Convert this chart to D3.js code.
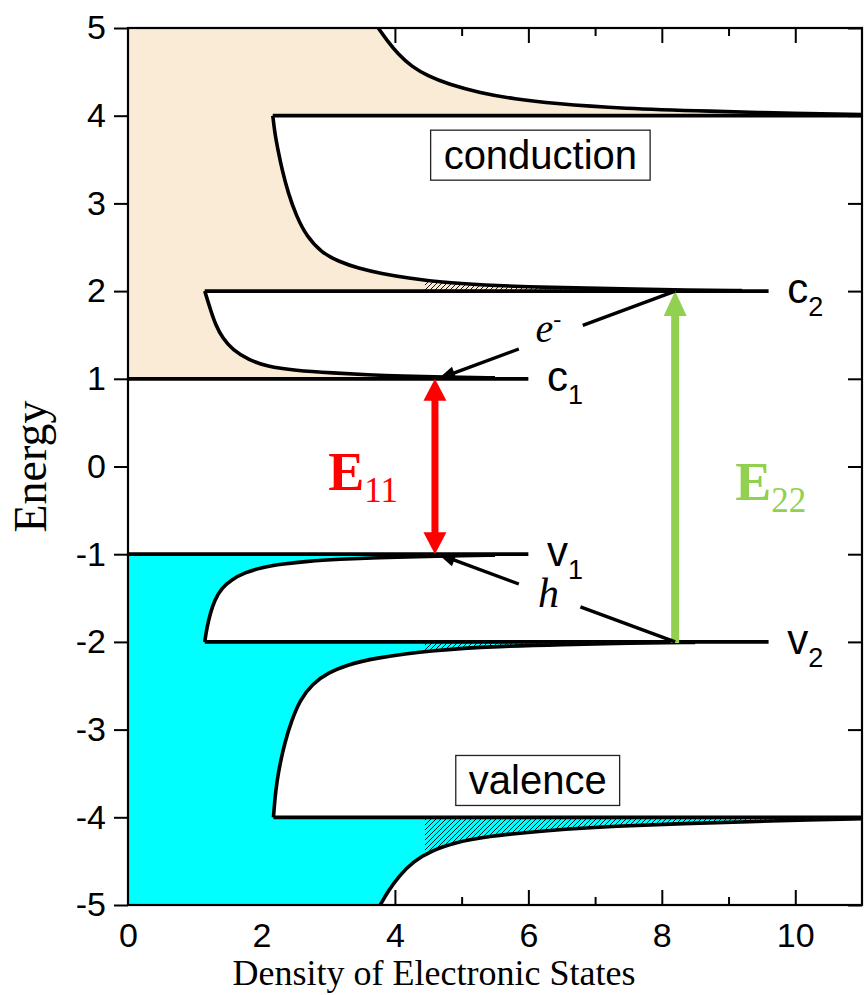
<!DOCTYPE html>
<html><head><meta charset="utf-8">
<script src="https://cdn.jsdelivr.net/npm/d3@7"></script>
<style>body{margin:0;background:#fff} svg{display:block}</style>
</head><body><svg id="chart" width="864" height="995"></svg>
<script>
// ---------------- data ----------------
const xTicksMajor = [0, 2, 4, 6, 8, 10];
const xTicksMinor = [1, 3, 5, 7, 9];
const yTicks = [-5, -4, -3, -2, -1, 0, 1, 2, 3, 4, 5];

// density-of-states curves, points as [DOS, Energy]
const c1Curve = [[1.15,2.00],[1.19,1.90],[1.24,1.78],[1.31,1.62],[1.42,1.46],[1.57,1.33],[1.80,1.22],[2.08,1.14],[2.50,1.095],[3.08,1.066],[3.60,1.045],[4.08,1.03],[4.80,1.018],[5.50,1.01]];
const c2Curve = [[2.17,4.00],[2.20,3.80],[2.25,3.60],[2.31,3.38],[2.40,3.12],[2.52,2.86],[2.68,2.62],[2.90,2.44],[3.15,2.34],[3.45,2.26],[3.80,2.20],[4.19,2.15],[4.70,2.10],[5.27,2.07],[6.35,2.04],[7.42,2.025],[8.40,2.012],[9.20,2.005]];
const c3Curve = [[3.75,5.00],[3.88,4.86],[4.05,4.70],[4.25,4.56],[4.50,4.45],[4.80,4.36],[5.27,4.26],[5.80,4.19],[6.35,4.14],[7.42,4.08],[8.77,4.05],[9.80,4.03],[11.0,4.012]];
const v1Curve = [[1.15,-2.00],[1.18,-1.85],[1.23,-1.68],[1.30,-1.52],[1.40,-1.39],[1.55,-1.29],[1.75,-1.21],[2.00,-1.15],[2.33,-1.11],[2.70,-1.08],[3.08,-1.06],[4.08,-1.03],[4.80,-1.018],[5.50,-1.01]];
const v2Curve = [[2.18,-4.00],[2.20,-3.80],[2.23,-3.60],[2.28,-3.38],[2.35,-3.15],[2.45,-2.90],[2.58,-2.66],[2.76,-2.48],[3.00,-2.35],[3.30,-2.26],[3.65,-2.19],[4.58,-2.09],[5.58,-2.05],[6.50,-2.03],[7.50,-2.015],[8.50,-2.005]];
const v3Curve = [[3.78,-5.00],[3.90,-4.84],[4.06,-4.67],[4.28,-4.50],[4.55,-4.38],[4.90,-4.29],[5.33,-4.22],[6.33,-4.145],[7.33,-4.10],[8.33,-4.07],[9.33,-4.05],[10.2,-4.03],[11.0,-4.015]];

// band-edge lines
const bandEnergies = [1, -1, 2, -2, 4, -4];
const bandStarts   = [0, 0, 1.15, 1.15, 2.17, 2.18];
const bandEnds     = [6, 6, 9.6, 9.6, 11, 11];

// subband labels
const levelNames = ["c", "c", "v", "v"];
const levelSubs  = ["1", "2", "1", "2"];
const levelE     = [1, 2, -1, -2];
const levelX     = [6.28, 9.88, 6.28, 9.88];

// optical transitions: [x, E from, E to]
const transE11 = [4.6, -1, 1];
const transE22 = [8.2, -2, 2];
// relaxation arrows: [x0,E0] -> [x1,E1]
const relaxE = [[8.2, 2.0], [4.65, 1.0]];
const relaxH = [[8.2, -2.0], [4.65, -1.0]];
const hatchFromDOS = 4.45;

// ---------------- chart ----------------
const svg = d3.select("#chart");
const x = d3.scaleLinear().domain([0, 11]).range([128, 862]);
const y = d3.scaleLinear().domain([-5, 5]).range([905, 28]);
const SANS = "'Liberation Sans', Arial, sans-serif";
const SERIF = "'Liberation Serif', 'Times New Roman', serif";
const BEIGE = "#FAEBD7", CYAN = "#00FFFF", RED = "#FF0000", GREEN = "#92D050";

const defs = svg.append("defs");
const pat = defs.append("pattern").attr("id", "hatch").attr("patternUnits", "userSpaceOnUse")
  .attr("width", 5).attr("height", 5);
pat.append("path").attr("d", "M-1,1 l2,-2 M0,5 l5,-5 M4,6 l2,-2")
  .attr("stroke", "#000").attr("stroke-width", 0.9);
defs.append("clipPath").attr("id", "hatchClip").append("rect")
  .attr("x", x(hatchFromDOS)).attr("y", y(2.5))
  .attr("width", x(11) - x(hatchFromDOS)).attr("height", y(-5) - y(2.5));

// ---- axes (ticks under fills) ----
function styleAxis(g) {
  g.select(".domain").remove();
  g.selectAll(".tick line").attr("stroke", "#000").attr("stroke-width", 2);
  g.selectAll(".tick text").attr("font-family", SANS).attr("font-size", 34).attr("fill", "#000");
}
const fmt = d => String(d);
svg.append("g").attr("transform", `translate(0,${y(-5)})`)
  .call(d3.axisBottom(x).tickValues(xTicksMajor).tickSize(-15).tickPadding(18).tickFormat(fmt)).call(styleAxis);
svg.append("g").attr("transform", `translate(0,${y(-5)})`)
  .call(d3.axisBottom(x).tickValues(xTicksMinor).tickSize(-8).tickFormat("")).call(styleAxis);
svg.append("g").attr("transform", `translate(0,${y(5)})`)
  .call(d3.axisTop(x).tickValues(xTicksMajor).tickSize(-15).tickFormat("")).call(styleAxis);
svg.append("g").attr("transform", `translate(0,${y(5)})`)
  .call(d3.axisTop(x).tickValues(xTicksMinor).tickSize(-8).tickFormat("")).call(styleAxis);
svg.append("g").attr("transform", `translate(${x(0)},0)`)
  .call(d3.axisLeft(y).tickValues(yTicks).tickSize(14).tickPadding(8).tickFormat(fmt)).call(styleAxis);
svg.append("g").attr("transform", `translate(${x(11)},0)`)
  .call(d3.axisRight(y).tickValues(yTicks).tickSize(-14).tickFormat("")).call(styleAxis);

// ---- fills ----
const byE = pts => pts.slice().sort((a, b) => a[1] - b[1]);
const crv = d3.curveBasis;
const area = d3.area().curve(crv).y(d => y(d[1])).x0(x(0)).x1(d => x(d[0]));
const line = d3.line().curve(crv).x(d => x(d[0])).y(d => y(d[1]));
const condCurves = [c1Curve, c2Curve, c3Curve];
const valCurves = [v1Curve, v2Curve, v3Curve];

function fillBand(c, color) {
  const ext = d3.extent(c, d => d[1]).map(Math.round);
  const minX = d3.min(c, d => d[0]);
  // solid core of the band (closes seams between segments)
  svg.append("rect").attr("x", x(0)).attr("width", x(minX) - x(0))
    .attr("y", y(ext[1]) - 1).attr("height", y(ext[0]) - y(ext[1]) + 2).attr("fill", color);
  svg.append("path").attr("d", area(byE(c))).attr("fill", color);
}
condCurves.forEach(c => fillBand(c, BEIGE));
valCurves.forEach(c => fillBand(c, CYAN));
// hatched region
const hatchG = svg.append("g").attr("clip-path", "url(#hatchClip)");
[c2Curve, v2Curve, v3Curve].forEach(c => hatchG.append("path").attr("d", area(byE(c))).attr("fill", "url(#hatch)"));

// ---- band edges and curves ----
bandEnergies.forEach((E, i) => {
  svg.append("line").attr("x1", x(bandStarts[i])).attr("x2", x(bandEnds[i]))
    .attr("y1", y(E)).attr("y2", y(E)).attr("stroke", "#000").attr("stroke-width", 3.8);
});
condCurves.concat(valCurves).forEach(c => svg.append("path").attr("d", line(byE(c)))
  .attr("fill", "none").attr("stroke", "#000").attr("stroke-width", 3.6));

// frame
svg.append("rect").attr("x", x(0)).attr("y", y(5)).attr("width", x(11) - x(0)).attr("height", y(-5) - y(5))
  .attr("fill", "none").attr("stroke", "#000").attr("stroke-width", 2.2);

// ---- arrows ----
function blockArrow(xv, e0, e1, color, shaftW, headW, headL, doubleHead) {
  const px = x(xv), ya = y(e0), yb = y(e1); // arrow from ya to yb (tip at yb)
  const dir = Math.sign(yb - ya);
  const sStart = doubleHead ? ya + dir * headL : ya;
  const sEnd = yb - dir * headL;
  svg.append("line").attr("x1", px).attr("x2", px).attr("y1", sStart - dir).attr("y2", sEnd + dir)
    .attr("stroke", color).attr("stroke-width", shaftW);
  const head = (tipY, d) => svg.append("polygon")
    .attr("points", [[px, tipY], [px - headW / 2, tipY - d * headL], [px + headW / 2, tipY - d * headL]].map(p => p.join(",")).join(" "))
    .attr("fill", color);
  head(yb, dir);
  if (doubleHead) head(ya, -dir);
}
blockArrow(transE11[0], transE11[1], transE11[2], RED, 7, 23, 22, true);
blockArrow(transE22[0], transE22[1], transE22[2], GREEN, 8, 23, 25, false);

function gapArrow(seg, gapA, gapB) {
  const [p0, p1] = seg.map(d => [x(d[0]), y(d[1])]);
  const dx = p1[0] - p0[0], dy = p1[1] - p0[1], L = Math.hypot(dx, dy);
  const ux = dx / L, uy = dy / L, headL = 17, headW = 13;
  const at = t => [p0[0] + dx * t, p0[1] + dy * t];
  const a = at(gapA), b = at(gapB);
  const base = [p1[0] - ux * headL, p1[1] - uy * headL];
  svg.append("line").attr("x1", p0[0]).attr("y1", p0[1]).attr("x2", a[0]).attr("y2", a[1])
    .attr("stroke", "#000").attr("stroke-width", 3.4);
  svg.append("line").attr("x1", b[0]).attr("y1", b[1]).attr("x2", base[0] + ux * 2).attr("y2", base[1] + uy * 2)
    .attr("stroke", "#000").attr("stroke-width", 3.4);
  svg.append("polygon").attr("points", [p1, [base[0] - uy * headW / 2, base[1] + ux * headW / 2],
    [base[0] + uy * headW / 2, base[1] - ux * headW / 2]].map(p => p.join(",")).join(" ")).attr("fill", "#000");
}
gapArrow(relaxE, 0.39, 0.66);
gapArrow(relaxH, 0.40, 0.66);

// ---- labels ----
const eLab = svg.append("text").attr("x", x(6.3)).attr("y", y(1.42)).attr("text-anchor", "middle")
  .attr("font-family", SERIF).attr("font-style", "italic").attr("font-size", 40);
eLab.append("tspan").text("e");
eLab.append("tspan").attr("dy", -15).attr("font-size", 24).text("-");
svg.append("text").attr("x", x(6.3)).attr("y", y(-1.6)).attr("text-anchor", "middle")
  .attr("font-family", SERIF).attr("font-style", "italic").attr("font-size", 42).text("h");

levelNames.forEach((n, i) => {
  const t = svg.append("text").attr("x", x(levelX[i])).attr("y", y(levelE[i]) + 12)
    .attr("font-family", SANS).attr("font-size", 42).attr("fill", "#000");
  t.append("tspan").text(n);
  t.append("tspan").attr("dy", 13).attr("font-size", 27).text(levelSubs[i]);
});

function bigE(xv, ev, sub, color) {
  const t = svg.append("text").attr("x", x(xv)).attr("y", y(ev)).attr("font-family", SERIF).attr("fill", color);
  t.append("tspan").attr("font-size", 54).attr("font-weight", "bold").text("E");
  t.append("tspan").attr("dy", 12).attr("font-size", 35).text(sub);
}
bigE(3.0, -0.27, "11", RED);
bigE(9.1, -0.38, "22", GREEN);

function boxLabel(txt, xv, ev) {
  const g = svg.append("g");
  const t = g.append("text").attr("x", x(xv)).attr("y", y(ev)).attr("text-anchor", "middle")
    .attr("dominant-baseline", "central").attr("font-family", SANS).attr("font-size", 40).text(txt);
  const bb = t.node().getBBox();
  g.insert("rect", "text").attr("x", bb.x - 13).attr("y", bb.y - 3).attr("width", bb.width + 26).attr("height", bb.height + 6)
    .attr("fill", "#fff").attr("stroke", "#222").attr("stroke-width", 1.3);
}
boxLabel("conduction", 6.18, 3.55);
boxLabel("valence", 6.14, -3.58);

// axis titles
svg.append("text").attr("x", 434).attr("y", 985).attr("text-anchor", "middle")
  .attr("font-family", SERIF).attr("font-size", 36).text("Density of Electronic States");
svg.append("text").attr("transform", `translate(46,${y(0)}) rotate(-90)`).attr("text-anchor", "middle")
  .attr("font-family", SERIF).attr("font-size", 46).text("Energy");
</script></body></html>
